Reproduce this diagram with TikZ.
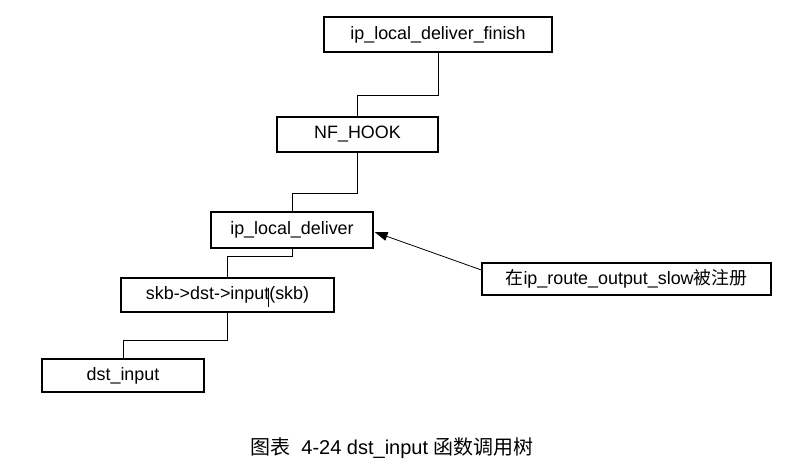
\documentclass[tikz,border=0pt]{standalone}
\usepackage{fontspec}
\setmainfont{Liberation Sans}
\newfontfamily\cjk{Noto Sans CJK SC}
\usetikzlibrary{arrows.meta,calc}
\begin{document}
\begin{tikzpicture}[x=1pt,y=-1pt,
  box/.style={draw, line width=1.2pt, inner sep=0pt, font=\fontsize{17.9}{20}\selectfont},
  conn/.style={line width=1pt},
  ptr/.style={line width=0.8pt, -{Triangle[length=13pt,width=9pt]}}]
\useasboundingbox[fill=white] (0,0) rectangle (785,474);
\node[box, minimum width=228pt, minimum height=35pt] (finish) at (438,34.5) {ip\_local\_deliver\_finish};
\node[box, minimum width=161pt, minimum height=35pt] (nf) at (357.5,134.5) {NF\_HOOK};
\node[box, minimum width=162pt, minimum height=36pt] (ipld) at (292,230) {ip\_local\_deliver};
\node[box, minimum width=213pt, minimum height=34pt] (skb) at (227.5,295) {skb->dst->input(skb)};
\node[box, minimum width=162pt, minimum height=33pt] (dst) at (123,375.5) {dst\_input};
\node[box, minimum width=289pt, minimum height=32pt] (reg) at (626.5,279) {{\cjk 在}ip\_route\_output\_slow{\cjk 被注册}};
\draw[conn] (finish.south) -- ++(0,43) -| (nf.north);
\draw[conn] (nf.south) -- ++(0,41) -| (ipld.north);
\draw[conn] (ipld.south) -- ++(0,8) -| (skb.north);
\draw[conn] (skb.south) -- ++(0,28) -| (dst.north);
\draw[ptr] ([yshift=9pt]reg.west) -- ([xshift=1pt,yshift=-2pt]ipld.east);
\coordinate (cura) at (268,288);
\coordinate (curb) at (268,307);
\draw[line width=0.9pt] (cura) -- (curb);
\node[font=\fontsize{20}{22}\selectfont, anchor=center] (cap) at (392,448) {{\cjk 图表}\ \ 4-24 dst\_input {\cjk 函数调用树}};
\end{tikzpicture}
\end{document}
